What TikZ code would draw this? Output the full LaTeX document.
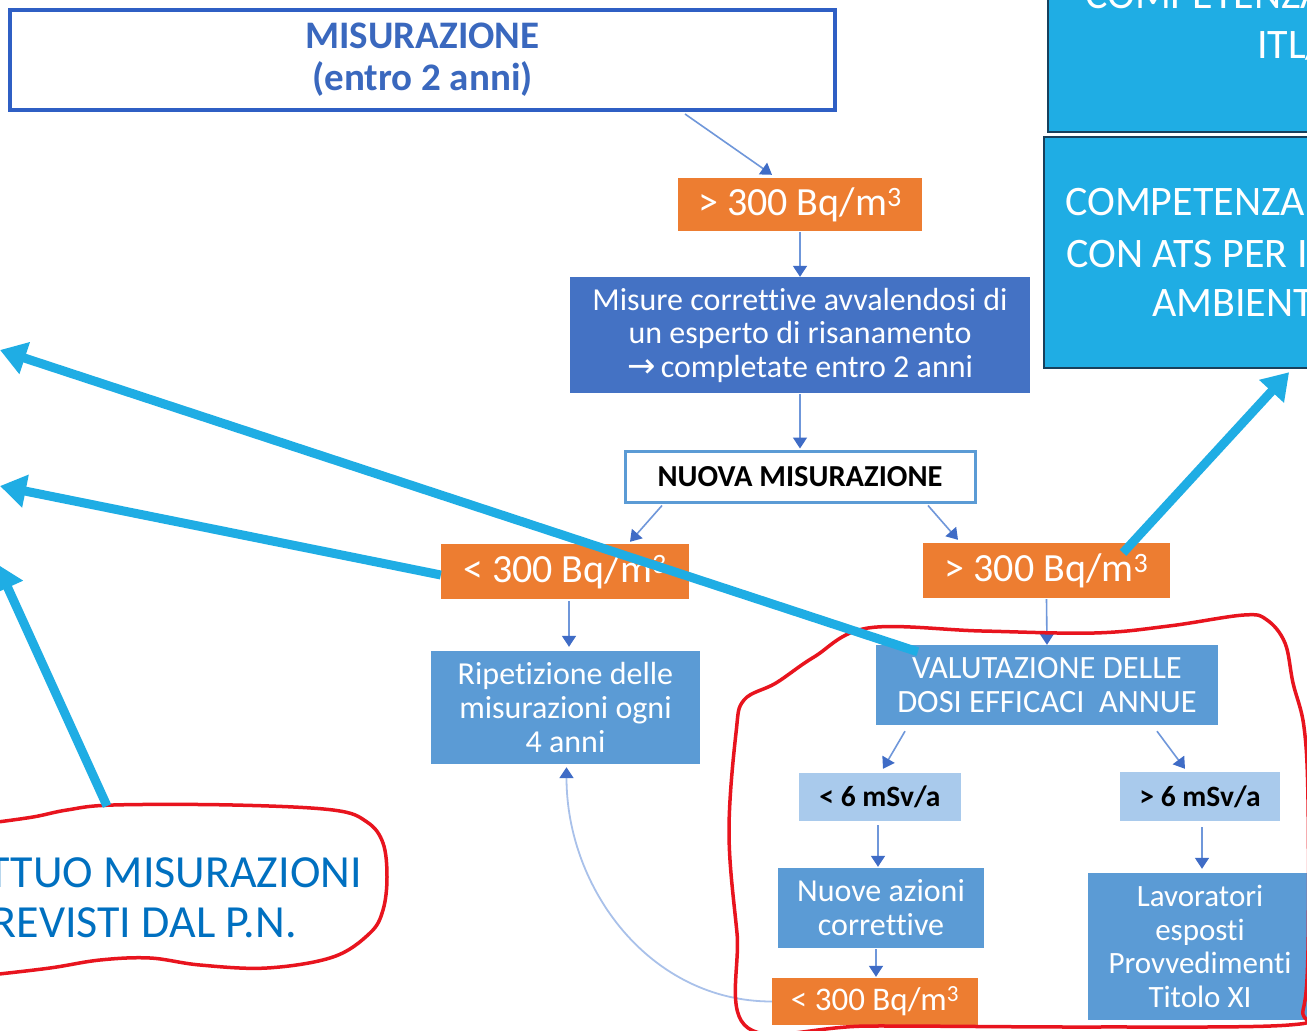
\documentclass[tikz,border=0pt]{standalone}
\usepackage{fontspec}
\setmainfont{Carlito}[Ligatures=NoCommon]
\newfontfamily\dejavu{DejaVu Sans}
\usetikzlibrary{arrows.meta,calc}
\definecolor{orng}{HTML}{ED7D31}
\definecolor{dblue}{HTML}{4472C4}
\definecolor{mblue}{HTML}{5B9BD5}
\definecolor{lblue}{HTML}{A9CAEC}
\definecolor{bordblue}{HTML}{2F5FC4}
\definecolor{titleblue}{HTML}{3A68BE}
\definecolor{cyanA}{HTML}{1FADE4}
\definecolor{trborder}{HTML}{17405C}
\definecolor{redline}{HTML}{E8141E}
\definecolor{cloudtext}{HTML}{0070C0}
\definecolor{flowline}{HTML}{6F97DA}
\definecolor{flowhead}{HTML}{3F6CC6}
\definecolor{curveline}{HTML}{A9C1EA}
\begin{document}
\begin{tikzpicture}[x=1pt,y=-1pt,
  box/.style={inner sep=0pt, align=center, text=white},
  obox/.style={box, fill=orng, font=\fontsize{40}{44}\selectfont},
  dbox/.style={box, fill=dblue, font=\fontsize{32}{33.5}\selectfont},
  mbox/.style={box, fill=mblue, font=\fontsize{32}{34}\selectfont},
  lbox/.style={box, fill=lblue, text=black, font=\bfseries\fontsize{29.5}{31}\selectfont},
  flow/.style={draw=flowline, line width=1.6pt, -{Triangle[length=11pt,width=14pt,color=flowhead]}},
  flowc/.style={draw=curveline, line width=1.8pt, -{Triangle[length=11pt,width=14pt,color=flowhead]}},
  bigarrow/.style={draw=cyanA, line width=9pt, -{Triangle[length=26pt,width=32pt]}},
  trbox/.style={fill=cyanA, draw=trborder, line width=2.2pt, inner sep=0pt},
  trtext/.style={text=white, inner sep=0pt, font=\fontsize{42}{50}\selectfont},
  cloudtxt/.style={text=cloudtext, inner sep=0pt, font=\fontsize{46}{50}\selectfont},
  redpen/.style={draw=redline, line width=3.5pt, line join=round, line cap=round}
]
\useasboundingbox (0,0) rectangle (1307,1031);
\clip (0,0) rectangle (1307,1031);
\fill[white] (0,0) rectangle (1307,1031);

% top right boxes
\node[trbox, minimum width=400pt, minimum height=260pt, anchor=south west] (tr1) at (1047,133) {};
\node[trbox, minimum width=400pt, minimum height=231pt, anchor=north west] (tr2) at (1043,136) {};
\node[trtext, anchor=base west] (t1a) at (1085,8) {COMPETENZA};
\node[trtext, anchor=base west] (t1b) at (1257,58) {ITL/};
\node[trtext, anchor=base west] (t2a) at (1065,215) {COMPETENZA};
\node[trtext, anchor=base west] (t2b) at (1066,267) {CON ATS PER I};
\node[trtext, anchor=base west] (t2c) at (1152,316) {AMBIENT};

% flowchart
\node[draw=bordblue, line width=4pt, fill=white, inner sep=0pt, minimum width=825pt, minimum height=100pt,
      text=titleblue, align=center, font=\bfseries\fontsize{39}{42}\selectfont] (mis) at (422.5,60)
      {MISURAZIONE\\(entro 2 anni)};
\node[obox, minimum width=244pt, minimum height=53pt] (o1) at (800,204.5) {> 300 Bq/m\textsuperscript{3}};
\node[dbox, minimum width=460pt, minimum height=116pt] (mc) at (800,335)
      {Misure correttive avvalendosi di\\un esperto di risanamento\\{\dejavu\fontsize{34}{30}\selectfont →}\,completate entro 2 anni};
\node[draw=mblue, line width=3pt, fill=white, inner sep=0pt, minimum width=350pt, minimum height=51pt,
      font=\bfseries\fontsize{30.5}{32}\selectfont] (nm) at (800,476.5) {NUOVA MISURAZIONE};
\node[obox, minimum width=248pt, minimum height=55pt] (o2) at (565,571.5) {< 300 Bq/m\textsuperscript{3}};
\node[obox, minimum width=247pt, minimum height=55pt] (o3) at (1046.5,570.5) {> 300 Bq/m\textsuperscript{3}};
\node[mbox, minimum width=269pt, minimum height=113pt] (rip) at (565.5,707.5)
      {Ripetizione delle\\misurazioni ogni\\4 anni};
\node[mbox, minimum width=342pt, minimum height=80pt, font=\fontsize{32.5}{33.5}\selectfont] (val) at (1047,685)
      {VALUTAZIONE DELLE\\DOSI EFFICACI~ ANNUE};
\node[lbox, minimum width=162pt, minimum height=48pt] (l6) at (880,797) {< 6 mSv/a};
\node[lbox, minimum width=160pt, minimum height=49pt] (g6) at (1200,796.5) {> 6 mSv/a};
\node[mbox, minimum width=206pt, minimum height=80pt] (nac) at (881,908) {Nuove azioni\\correttive};
\node[mbox, minimum width=224pt, minimum height=147pt, font=\fontsize{31}{33.7}\selectfont] (lav) at (1200,946.5)
      {Lavoratori\\esposti\\Provvedimenti\\Titolo XI};
\node[obox, minimum width=206pt, minimum height=47pt, font=\fontsize{33}{36}\selectfont] (o4) at (875,1001.5) {< 300 Bq/m\textsuperscript{3}};

% thin connectors
\draw[flow] ([shift={(262.5,2)}]mis.south) -- ([shift={(-28,-3)}]o1.north);
\draw[flow] ([yshift=-1pt]o1.south) -- (mc.north);
\draw[flow] ([yshift=-1pt]mc.south) -- ([yshift=1pt]nm.north);
\draw[flow] ([shift={(-138,2)}]nm.south) -- ([shift={(65,-2)}]o2.north);
\draw[flow] ([shift={(128,2)}]nm.south) -- ([shift={(-88.5,-3)}]o3.north);
\draw[flow] ([shift={(4,2)}]o2.south) -- ([shift={(3.5,-4)}]rip.north);
\draw[flow] ([yshift=-1pt]o3.south) -- (val.north);
\draw[flow] ([shift={(-142,6)}]val.south) -- ([shift={(3,-4)}]l6.north);
\draw[flow] ([shift={(110,6)}]val.south) -- ([shift={(-15,-3)}]g6.north);
\draw[flow] ([shift={(-2,4)}]l6.south) -- ([shift={(-3,-1)}]nac.north);
\draw[flow] ([shift={(2,6)}]g6.south) -- ([shift={(2,-4)}]lav.north);
\draw[flow] ([shift={(-5,1)}]nac.south) -- ([shift={(1,-1)}]o4.north);
\draw[flowc] (o4.west) to[out=180,in=-90] ([shift={(1,3)}]rip.south);

% red hand-drawn outlines
\draw[redpen] plot[smooth, tension=0.6] coordinates {(-10,823) (33,817) (67,810) (113,805) (233,805) (333,810) (367,822) (383,843) (387,877) (383,910) (370,933) (333,957) (267,968) (200,965) (150,958) (100,960) (50,968) (-10,975)};
\draw[redpen] plot[smooth cycle, tension=0.6] coordinates {(868,628) (982,631) (1094,633) (1169,626) (1244,615) (1267,620) (1285,643) (1293,683) (1304,727) (1308,800) (1308,950) (1303,1010) (1289,1025) (1094,1027) (870,1026) (748,1028) (737,933) (729,833) (736,733) (744,700) (776,683) (814,657)};

% cloud text
\node[cloudtxt, anchor=base east] (c1) at (362,887) {TTUO MISURAZIONI};
\node[cloudtxt, anchor=base east] (c2) at (297,937) {REVISTI DAL P.N.};

% thick cyan arrows
\coordinate (ta) at (0,350);
\coordinate (tb) at (0,486);
\coordinate (tc) at (-3,564);
\coordinate (cloudtop) at (107,806);
\draw[bigarrow] ([shift={(42,7)}]val.north west) -- (ta);
\draw[bigarrow] ([yshift=-3.5pt]o2.west) -- (tb);
\draw[bigarrow] (cloudtop) -- (tc);
\draw[bigarrow] ([shift={(76.5,10)}]o3.north) -- ([shift={(45,3)}]tr2.south);
\end{tikzpicture}
\end{document}
